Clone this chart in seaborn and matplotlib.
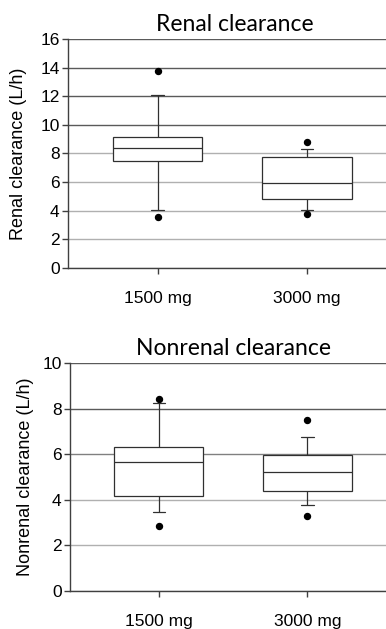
import numpy as np
import pandas as pd
import matplotlib
matplotlib.use("Agg")
import matplotlib.pyplot as plt
import seaborn as sns

doses = ["1500 mg", "3000 mg"]
# summary: low dot, whisker low, Q1, median, Q3, whisker high, high dot
renal_1500 = [3.57, 4.08, 7.49, 8.35, 9.12, 12.1, 13.78]
renal_3000 = [3.76, 4.04, 4.81, 5.91, 7.77, 8.29, 8.82]
nonrenal_1500 = [2.84, 3.46, 4.19, 5.68, 6.34, 8.26, 8.42]
nonrenal_3000 = [3.28, 3.76, 4.39, 5.21, 5.96, 6.78, 7.50]

renal_ticks = [0, 2, 4, 6, 8, 10, 12, 14, 16]
nonrenal_ticks = [0, 2, 4, 6, 8, 10]


def sample(s):
    lo, wlo, q1, med, q3, whi, hi = s
    # nine points whose quartiles / 10-90 whiskers / fliers reproduce the summary
    return [lo, wlo, q1, med, med, med, q3, whi, hi]


def frame(a, b):
    return pd.DataFrame({
        "dose": [doses[0]] * 9 + [doses[1]] * 9,
        "value": sample(a) + sample(b),
    })


sns.set_theme(style="white")
plt.rcParams["font.family"] = ["Liberation Sans", "DejaVu Sans"]

fig = plt.figure(figsize=(3.86, 6.29), dpi=100)
ax1 = fig.add_axes([0.176, 0.574, 0.824, 0.364])
ax2 = fig.add_axes([0.181, 0.0604, 0.819, 0.362])

dark, mid, light = "#5a5a5a", "#808080", "#b0b0b0"
specs = [
    (ax1, frame(renal_1500, renal_3000), "Renal clearance", "Renal clearance (L/h)",
     renal_ticks, -0.129, 0.524,
     [light, light, light, light, light, dark, dark, dark, dark]),
    (ax2, frame(nonrenal_1500, nonrenal_3000), "Nonrenal clearance", "Nonrenal clearance (L/h)",
     nonrenal_ticks, -0.114, 0.519,
     [light, light, light, mid, dark, dark]),
]

for ax, df, title, ylabel, ticks, lx, tx, gcols in specs:
    sns.boxplot(
        data=df, x="dose", y="value", order=doses, ax=ax,
        whis=(10, 90), width=0.6, color="white", linecolor="#303030",
        linewidth=0.9, fliersize=4.3, capwidths=0.085,
        flierprops=dict(marker="o", markerfacecolor="black", markeredgecolor="black"),
    )
    ax.set_xlim(-0.6, 1.53)
    ax.set_ylim(ticks[0], ticks[-1])
    ax.set_yticks(ticks)
    ax.set_axisbelow(True)
    ax.yaxis.grid(True, color=light, linewidth=1.0)
    for gl, c in zip(ax.get_ygridlines(), gcols):
        gl.set_color(c)
    ax.xaxis.grid(False)
    for side in ["top", "right"]:
        ax.spines[side].set_visible(False)
    for side in ["left", "bottom"]:
        ax.spines[side].set_color("#404040")
        ax.spines[side].set_linewidth(1.0)
    ax.tick_params(axis="y", direction="out", length=4, width=1, color="#404040",
                   labelsize=12.5, pad=2, left=True, labelcolor="black")
    ax.tick_params(axis="x", direction="out", length=4, width=1, color="#404040",
                   labelsize=12.5, pad=12.5, bottom=True, labelcolor="black")
    ax.set_xlabel("")
    ax.set_ylabel(ylabel, fontsize=13, color="black")
    ax.yaxis.set_label_coords(lx, 0.5)
    ax.set_title(title, fontsize=16.5, family=["Lato", "DejaVu Sans"], pad=6,
                 color="black", x=tx)

fig.savefig("out.png", dpi=100, facecolor="white")
